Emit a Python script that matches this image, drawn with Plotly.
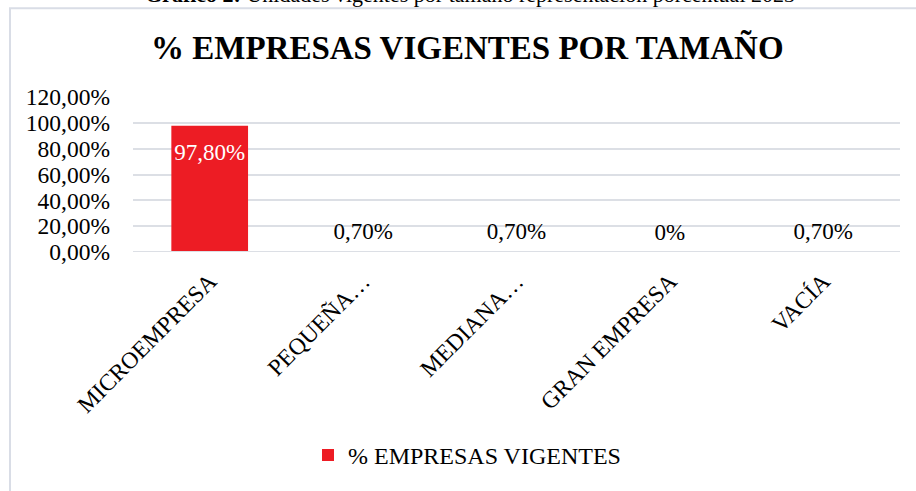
import plotly.graph_objects as go

categories = ["MICROEMPRESA", "PEQUEÑA…", "MEDIANA…", "GRAN EMPRESA", "VACÍA"]
values = [0.978, 0.007, 0.007, 0.0, 0.007]
value_labels = ["97,80%", "0,70%", "0,70%", "0%", "0,70%"]
label_positions = ["bottom center", "top center", "top center", "top center", "top center"]
label_colors = ["white", "black", "black", "black", "black"]
y_tickvals = [0, 0.2, 0.4, 0.6, 0.8, 1.0, 1.2]
y_ticktext = ["0,00%", "20,00%", "40,00%", "60,00%", "80,00%", "100,00%", "120,00%"]
series_name = "% EMPRESAS VIGENTES"
title_text = "<b>% EMPRESAS VIGENTES POR TAMAÑO</b>"
caption_text = "<b>Gráfico 2:</b> Unidades vigentes por tamaño representación porcentual 2023"

FONT = "Liberation Serif, Times New Roman, serif"
W, H = 916, 491
L, R, T, B = 133, 16, 97, 237
plot_w = W - L - R
plot_h = H - T - B
GRID = "#dcdfe5"

def px_x(x):
    return (x - L) / plot_w

def px_y(y):
    return (H - B - y) / plot_h

fig = go.Figure()
fig.add_trace(go.Bar(
    x=categories, y=values, name=series_name,
    marker=dict(color="#ED1C24", line=dict(width=0)),
    width=0.5, showlegend=True, hoverinfo="skip",
))
fig.add_trace(go.Scatter(
    x=categories, y=values, mode="markers+text", text=value_labels,
    textposition=label_positions,
    textfont=dict(family=FONT, size=23, color=label_colors),
    marker=dict(size=[26, 9, 9, 9, 9], opacity=0),
    showlegend=False, hoverinfo="skip", cliponaxis=False,
))

fig.update_layout(
    width=W, height=H,
    margin=dict(l=L, r=R, t=T, b=B, pad=0),
    paper_bgcolor="white", plot_bgcolor="white",
    font=dict(family=FONT, size=23, color="black"),
    showlegend=True,
    legend=dict(orientation="h", x=px_x(308), xanchor="left",
                y=px_y(460), yanchor="middle",
                font=dict(family=FONT, size=24, color="black"),
                itemwidth=30),
    xaxis=dict(tickangle=-45, showgrid=False, zeroline=False, showline=False,
               tickfont=dict(family=FONT, size=23.5, color="black"),
               ticks="", ticklabelstandoff=10, range=[-0.5, 4.5]),
    yaxis=dict(range=[0, 1.2], tickvals=y_tickvals, ticktext=y_ticktext,
               showgrid=True, gridcolor=GRID, gridwidth=1.5,
               zeroline=False, showline=False, ticks="", ticklabelstandoff=22,
               tickfont=dict(family=FONT, size=23.5, color="black")),
    shapes=[
        dict(type="rect", xref="paper", yref="paper",
             x0=px_x(10), x1=px_x(930), y0=px_y(500), y1=px_y(7),
             line=dict(color="#d9dde6", width=2), fillcolor="rgba(0,0,0,0)",
             layer="below"),
        dict(type="line", xref="paper", yref="y", x0=0, x1=1, y0=0, y1=0,
             line=dict(color=GRID, width=2), layer="above"),
    ],
    annotations=[
        dict(text=title_text, xref="paper", yref="paper", x=px_x(467), y=px_y(47),
             xanchor="center", yanchor="middle", showarrow=False,
             font=dict(family=FONT, size=33, color="black")),
        dict(text=caption_text, xref="paper", yref="paper", x=px_x(470), y=px_y(8),
             xanchor="center", yanchor="bottom", showarrow=False,
             font=dict(family=FONT, size=22, color="black")),
    ],
)

fig.write_html("out.html")
